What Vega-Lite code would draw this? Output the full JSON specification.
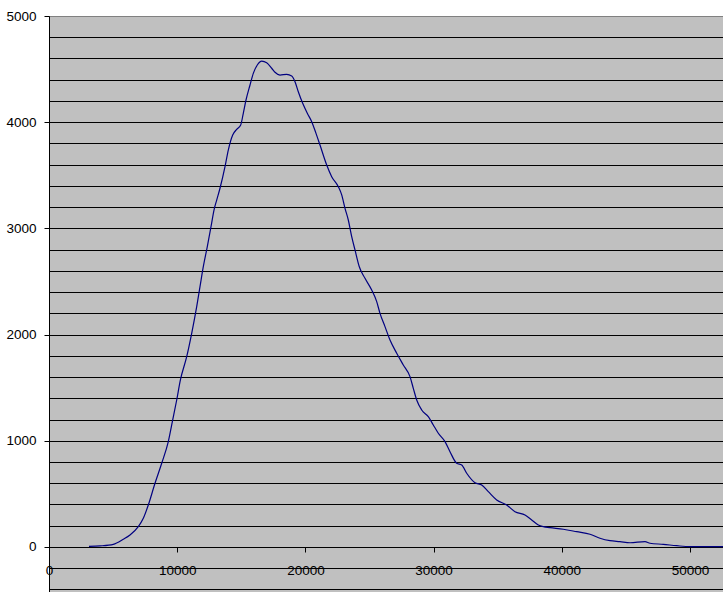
{
  "$schema": "https://vega.github.io/schema/vega-lite/v6.json",
  "width": 674,
  "height": 576,
  "autosize": {"type": "none"},
  "padding": {"left": 49, "top": 16, "right": 0, "bottom": 0},
  "background": "white",
  "config": {
    "view": {"fill": "#C0C0C0", "stroke": "#808080", "strokeWidth": 1},
    "axis": {"labelFont": "Liberation Sans", "labelFontSize": 13.5, "labelColor": "black", "titleFont": "Liberation Sans"}
  },
  "data": {"values": [
    {"x": 3120, "y": 5}, {"x": 3980, "y": 10}, {"x": 5016, "y": 25}, {"x": 5796, "y": 73},
    {"x": 6318, "y": 113}, {"x": 6966, "y": 191}, {"x": 7356, "y": 270}, {"x": 7746, "y": 395},
    {"x": 8268, "y": 600}, {"x": 8791, "y": 788}, {"x": 9306, "y": 992}, {"x": 9649, "y": 1196},
    {"x": 9961, "y": 1384}, {"x": 10250, "y": 1573}, {"x": 10741, "y": 1792}, {"x": 11131, "y": 2012},
    {"x": 11521, "y": 2263}, {"x": 11778, "y": 2451}, {"x": 12036, "y": 2639}, {"x": 12348, "y": 2828},
    {"x": 12637, "y": 3016}, {"x": 12871, "y": 3173}, {"x": 13081, "y": 3267}, {"x": 13339, "y": 3378},
    {"x": 13729, "y": 3581}, {"x": 13986, "y": 3738}, {"x": 14329, "y": 3879}, {"x": 14641, "y": 3933},
    {"x": 14953, "y": 3974}, {"x": 15156, "y": 4084}, {"x": 15367, "y": 4209}, {"x": 15679, "y": 4350},
    {"x": 15936, "y": 4460}, {"x": 16248, "y": 4539}, {"x": 16591, "y": 4576}, {"x": 16981, "y": 4560},
    {"x": 17371, "y": 4508}, {"x": 17629, "y": 4470}, {"x": 18019, "y": 4444}, {"x": 18541, "y": 4451},
    {"x": 18931, "y": 4435}, {"x": 19189, "y": 4381}, {"x": 19446, "y": 4287}, {"x": 19789, "y": 4178},
    {"x": 20148, "y": 4084}, {"x": 20491, "y": 4005}, {"x": 20827, "y": 3895}, {"x": 21139, "y": 3785},
    {"x": 21661, "y": 3597}, {"x": 22051, "y": 3487}, {"x": 22566, "y": 3393}, {"x": 22832, "y": 3315},
    {"x": 23089, "y": 3189}, {"x": 23346, "y": 3079}, {"x": 23612, "y": 2922}, {"x": 23869, "y": 2797},
    {"x": 24204, "y": 2639}, {"x": 24649, "y": 2530}, {"x": 25172, "y": 2420}, {"x": 25562, "y": 2310},
    {"x": 25819, "y": 2200}, {"x": 26209, "y": 2075}, {"x": 26599, "y": 1949}, {"x": 27122, "y": 1824},
    {"x": 27637, "y": 1714}, {"x": 28159, "y": 1604}, {"x": 28417, "y": 1494}, {"x": 28682, "y": 1384},
    {"x": 29072, "y": 1290}, {"x": 29587, "y": 1227}, {"x": 29977, "y": 1149}, {"x": 30367, "y": 1071},
    {"x": 30889, "y": 992}, {"x": 31279, "y": 897}, {"x": 31802, "y": 788}, {"x": 32192, "y": 772},
    {"x": 32582, "y": 694}, {"x": 33229, "y": 605}, {"x": 33752, "y": 584}, {"x": 34267, "y": 521},
    {"x": 34922, "y": 443}, {"x": 35702, "y": 395}, {"x": 36349, "y": 332}, {"x": 37129, "y": 301},
    {"x": 37652, "y": 254}, {"x": 38167, "y": 207}, {"x": 38557, "y": 191}, {"x": 39080, "y": 182},
    {"x": 40117, "y": 167}, {"x": 41162, "y": 144}, {"x": 42200, "y": 120}, {"x": 42980, "y": 82},
    {"x": 43760, "y": 59}, {"x": 44540, "y": 50}, {"x": 45320, "y": 40}, {"x": 46490, "y": 50},
    {"x": 46880, "y": 35}, {"x": 47918, "y": 25}, {"x": 48963, "y": 12}, {"x": 50000, "y": 3},
    {"x": 51500, "y": 3}, {"x": 52574, "y": 3}
  ]},
  "mark": {"type": "line", "color": "#000080", "strokeWidth": 1.2, "interpolate": "monotone", "clip": true},
  "encoding": {
    "x": {
      "field": "x", "type": "quantitative",
      "scale": {"domain": [0, 52574], "nice": false, "zero": false},
      "axis": {
        "title": null, "values": [0, 10000, 20000, 30000, 40000, 50000], "format": "d",
        "offset": -45, "grid": false, "domain": true, "domainColor": "black", "domainWidth": 1,
        "tickColor": "black", "tickSize": 5, "labelPadding": 11, "labelFlush": false, "labelOverlap": false
      }
    },
    "y": {
      "field": "y", "type": "quantitative",
      "scale": {"domain": [-424, 5000], "nice": false, "zero": false},
      "axis": {
        "title": null,
        "values": [-400, -200, 0, 200, 400, 600, 800, 1000, 1200, 1400, 1600, 1800, 2000, 2200, 2400, 2600, 2800, 3000, 3200, 3400, 3600, 3800, 4000, 4200, 4400, 4600, 4800, 5000],
        "format": "d",
        "labelExpr": "(datum.value % 1000 === 0 && datum.value >= 0) ? datum.label : ''",
        "grid": true, "gridWidth": 1,
        "gridColor": {"condition": {"test": "datum.value === 5000", "value": "#808080"}, "value": "black"},
        "gridOpacity": 1,
        "domain": true, "domainColor": "black", "domainWidth": 1,
        "tickColor": "black", "tickSize": 5,
        "tickOpacity": {"condition": {"test": "datum.value % 1000 === 0 && datum.value >= 0", "value": 1}, "value": 0},
        "labelPadding": 8, "labelFlush": false, "labelOverlap": false, "labelBaseline": "middle"
      }
    }
  }
}
